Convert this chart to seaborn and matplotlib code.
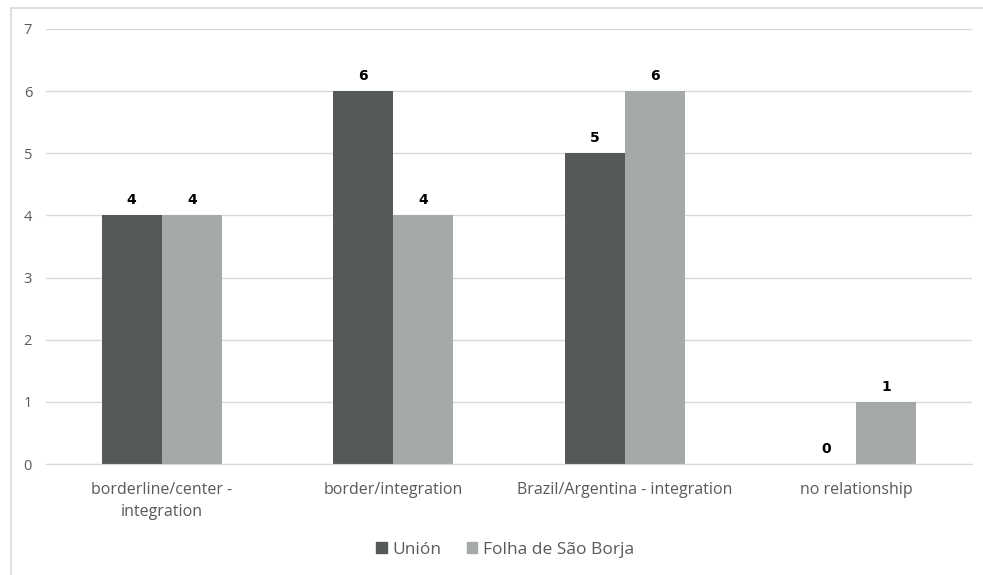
import pandas as pd
import seaborn as sns
import matplotlib.pyplot as plt
import matplotlib.patches as patches

categories = ["borderline/center -\nintegration", "border/integration",
              "Brazil/Argentina - integration", "no relationship"]
series_names = ["Unión", "Folha de São Borja"]
union_values = [4, 6, 5, 0]
folha_values = [4, 4, 6, 1]
colors = ["#555959", "#a6a9a9"]

df = pd.DataFrame({
    "category": categories * 2,
    "series": [series_names[0]] * 4 + [series_names[1]] * 4,
    "value": union_values + folha_values,
})

sns.set_style("white")
plt.rcParams["font.family"] = ["Open Sans", "DejaVu Sans"]

fig = plt.figure(figsize=(9.83, 5.75), dpi=100)
ax = fig.add_axes([46 / 983, 1 - 464 / 575, (972 - 46) / 983, (464 - 29) / 575])

sns.barplot(data=df, x="category", y="value", hue="series", palette=colors,
            width=0.52, gap=0, saturation=1, linewidth=0, ax=ax, legend=False)

ax.set_ylim(0, 7)
ax.set_xlim(-0.5, 3.5)
ax.set_yticks(range(0, 8))
ax.yaxis.grid(True, color="#d9d9d9", lw=1)
ax.set_axisbelow(True)
for s in ["top", "right", "left"]:
    ax.spines[s].set_visible(False)
ax.spines["bottom"].set_color("#d9d9d9")
ax.set_xlabel("")
ax.set_ylabel("")
ax.tick_params(axis="both", length=0, colors="#595959")
ax.tick_params(axis="x", pad=13, labelsize=11.5)
ax.tick_params(axis="y", pad=10, labelsize=10.5)
for lbl in ax.get_xticklabels():
    lbl.set_linespacing(1.5)

for cont in ax.containers:
    ax.bar_label(cont, fmt="%d", padding=6, fontsize=10, fontweight="bold",
                 color="black", family="DejaVu Sans")

handles = [patches.Patch(color=c, label=n) for c, n in zip(colors, series_names)]
fig.legend(handles=handles, loc="center", bbox_to_anchor=(505 / 983, 1 - 550 / 575),
           ncol=2, frameon=False, handlelength=0.6, handleheight=0.6,
           handletextpad=0.3, columnspacing=1.5, fontsize=12.5, labelcolor="#595959")

fig.patches.append(patches.Rectangle((11 / 983, -0.1), 1.5, 1 - 8 / 575 + 0.1,
                                     transform=fig.transFigure, fill=False,
                                     edgecolor="#d9d9d9", lw=1.2))

plt.savefig("out.png", dpi=100)
